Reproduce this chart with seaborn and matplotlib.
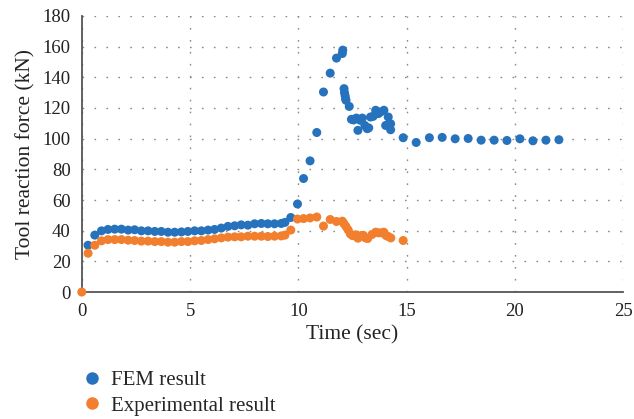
"""
Tool reaction force vs time: FEM vs experimental
"""

import numpy as np
import matplotlib
matplotlib.use('Agg')
import matplotlib.pyplot as plt
import seaborn as sns
import pandas as pd

# FEM result
fem_time = [0.29, 0.60, 0.91, 1.21, 1.52, 1.83, 2.14, 2.44, 2.75, 3.06,
            3.37, 3.67, 3.98, 4.29, 4.60, 4.90, 5.21, 5.52, 5.83, 6.13,
            6.44, 6.75, 7.06, 7.36, 7.67, 7.98, 8.29, 8.59, 8.90, 9.21,
            9.38, 9.65, 9.96, 10.24, 10.54, 10.85, 11.16, 11.47, 11.76, 12.03,
            12.05, 12.11, 12.13, 12.16, 12.18, 12.20, 12.35, 12.45, 12.55, 12.68,
            12.75, 12.85, 12.95, 13.07, 13.18, 13.25, 13.33, 13.45, 13.57, 13.69,
            13.80, 13.95, 14.03, 14.15, 14.26, 14.26, 14.84, 15.44, 16.05, 16.64,
            17.24, 17.84, 18.44, 19.04, 19.63, 20.23, 20.83, 21.43, 22.03]
fem_force = [30.5, 37.1, 39.9, 40.8, 41.0, 41.0, 40.4, 40.6, 39.9, 39.9,
             39.5, 39.5, 39.0, 39.0, 39.2, 39.5, 39.9, 39.9, 40.4, 40.8,
             41.7, 42.8, 43.2, 43.8, 43.6, 44.5, 44.7, 44.5, 44.5, 44.7,
             45.4, 48.6, 57.4, 74.0, 85.5, 104.0, 130.4, 142.7, 152.5, 155.5,
             157.7, 132.6, 130.0, 128.0, 126.0, 125.0, 121.0, 112.6, 112.2, 113.4,
             105.4, 112.0, 113.4, 108.6, 106.5, 107.0, 114.1, 114.5, 118.5, 116.3,
             117.4, 118.5, 108.6, 114.1, 109.7, 105.8, 100.6, 97.5, 100.6, 100.8,
             99.9, 100.1, 99.0, 99.0, 98.8, 99.9, 98.6, 99.0, 99.3]

# Experimental result
exp_time = [0.0, 0.29, 0.60, 0.91, 1.21, 1.52, 1.83, 2.14, 2.44, 2.75,
            3.06, 3.37, 3.67, 3.98, 4.29, 4.60, 4.90, 5.21, 5.52, 5.83,
            6.13, 6.44, 6.75, 7.06, 7.36, 7.67, 7.98, 8.29, 8.59, 8.90,
            9.21, 9.38, 9.65, 9.96, 10.24, 10.54, 10.85, 11.16, 11.47, 11.76,
            12.03, 12.11, 12.20, 12.30, 12.40, 12.50, 12.65, 12.75, 12.90, 13.00,
            13.10, 13.20, 13.40, 13.57, 13.70, 13.85, 13.95, 14.05, 14.15, 14.27,
            14.84]
exp_force = [0.0, 25.3, 30.5, 33.4, 34.2, 34.2, 34.2, 33.8, 33.6, 33.2,
             33.2, 32.9, 32.9, 32.5, 32.5, 32.9, 32.9, 33.4, 33.6, 34.2,
             34.7, 35.3, 35.8, 36.0, 36.0, 36.4, 36.4, 36.4, 36.2, 36.4,
             36.6, 37.1, 40.4, 47.6, 47.9, 48.3, 48.9, 43.0, 47.3, 46.0,
             46.2, 44.5, 42.7, 40.5, 37.9, 36.8, 37.3, 35.1, 36.8, 37.0,
             35.3, 34.9, 37.5, 39.0, 38.6, 38.6, 39.0, 36.8, 36.2, 35.3,
             33.6]

series_names = ['FEM result', 'Experimental result']
colors = ['#2672BD', '#F27F2E']

df = pd.concat([
    pd.DataFrame({'time': fem_time, 'force': fem_force, 'series': series_names[0]}),
    pd.DataFrame({'time': exp_time, 'force': exp_force, 'series': series_names[1]}),
])

sns.set_style('white')
plt.rcParams['font.family'] = ['Liberation Serif', 'DejaVu Serif']

fig = plt.figure(figsize=(6.34, 4.19), dpi=100)
ax = fig.add_axes([0.129, 0.303, 0.854, 0.659])

sns.scatterplot(data=df, x='time', y='force', hue='series', palette=colors,
                s=42, edgecolor='none', ax=ax, legend=False, clip_on=False, zorder=3)

ax.set_xlim(0, 25)
ax.set_ylim(0, 180)
ax.set_xticks(np.arange(0, 26, 5))
ax.set_yticks(np.arange(0, 181, 20))
ax.grid(True, color='#8a8a8a', linestyle=(0, (1.2, 7.4)), linewidth=1.0)
ax.set_axisbelow(True)
for side in ['top', 'right']:
    ax.spines[side].set_visible(False)
for side in ['left', 'bottom']:
    ax.spines[side].set_color('#555555')
    ax.spines[side].set_linewidth(1.3)
ax.tick_params(axis='x', length=0, labelsize=13.5, pad=8, colors='#222222')
ax.tick_params(axis='y', length=0, labelsize=13.5, pad=8, colors='#222222')
ax.set_xlabel('Time (sec)', fontsize=15.5, color='#222222', labelpad=4)
ax.set_ylabel('Tool reaction force (kN)', fontsize=15.5, color='#222222', labelpad=5)

handles = [plt.Line2D([], [], marker='o', linestyle='', markersize=9,
                      markerfacecolor=c, markeredgecolor='none') for c in colors]
fig.legend(handles, series_names, loc='upper left', bbox_to_anchor=(0.115, 0.135),
           frameon=False, fontsize=15, handletextpad=0.45, labelspacing=0.28,
           handlelength=1.0, borderaxespad=0)

fig.savefig('out.png', dpi=100)
plt.close(fig)
